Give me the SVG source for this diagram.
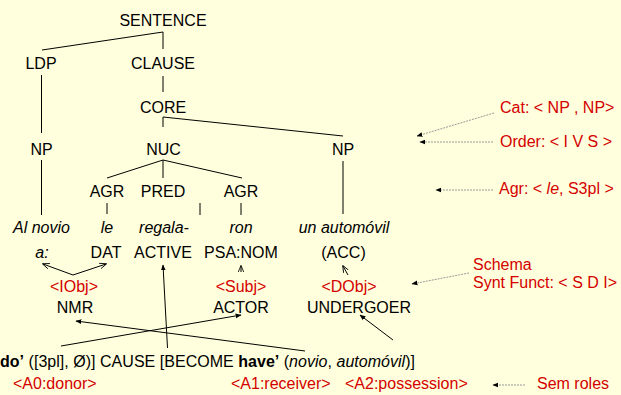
<svg xmlns="http://www.w3.org/2000/svg" width="621" height="395" viewBox="0 0 621 395">
<defs>
<style>
text{font-family:"Liberation Sans",Arial,sans-serif;font-size:16px;fill:#000;text-anchor:middle}
.r{fill:#D40000}
.s{text-anchor:start}
.i{font-style:italic}
.b{font-weight:bold}
.t{stroke:#000;stroke-width:1;fill:none}
.d{stroke:#999;stroke-width:1;stroke-dasharray:2,1;fill:none}
</style>
<marker id="fa" viewBox="0 0 10 10" refX="9" refY="5" markerWidth="6" markerHeight="6" orient="auto" markerUnits="userSpaceOnUse"><path d="M0,1 L10,5 L0,9 z" fill="#000"/></marker>
<marker id="oa" viewBox="0 0 10 10" refX="9" refY="5" markerWidth="7" markerHeight="7" orient="auto" markerUnits="userSpaceOnUse"><path d="M0,1 L10,5 L0,9" fill="none" stroke="#000" stroke-width="1.2"/></marker>
</defs>
<rect width="621" height="395" fill="#FFFFDD"/>
<g id="connectors">
<path class="t" d="M163,32 L42,50 M163,32 L163,49"/>
<path class="t" d="M41.5,75 L41.5,133 M163,76 L163,92"/>
<path class="t" d="M163,127 L163,117 L343,136"/>
<path class="t" d="M41.5,160 L41.5,215 M343,161 L343,214"/>
<path class="t" d="M107,178 L163,160 L242,178 M163,160 L163,178"/>
<path class="t" d="M107,203 L107,214 M200,203 L200,215 M241,203 L241,215"/>
<path class="t" d="M73,275 L106,264" marker-end="url(#oa)"/>
<path class="t" d="M73,275 L43,264" marker-end="url(#oa)"/>
<path class="t" d="M241,272 L241,266" marker-end="url(#oa)"/>
<path class="t" d="M348,275 L343,266" marker-end="url(#oa)"/>
<path class="t" d="M167.5,348 L163,265" marker-end="url(#fa)"/>
<path class="t" d="M61,346 L241,315" marker-end="url(#fa)"/>
<path class="t" d="M305,351 L76,321" marker-end="url(#fa)"/>
<path class="t" d="M393,340 L360,315" marker-end="url(#fa)"/>
<path class="d" d="M494,113 L417,136" marker-end="url(#fa)"/>
<path class="d" d="M493,142 L420,142" marker-end="url(#fa)"/>
<path class="d" d="M493,190 L436,190" marker-end="url(#fa)"/>
<path class="d" d="M469,273 L412,284" marker-end="url(#fa)"/>
<path class="d" d="M525,385 L493,385" marker-end="url(#fa)"/>
</g>
<g id="sentence"><text x="163" y="26">SENTENCE</text></g>
<g id="ldp"><text x="41" y="69">LDP</text></g>
<g id="clause"><text x="163" y="69">CLAUSE</text></g>
<g id="core"><text x="163" y="113">CORE</text></g>
<g id="np1"><text x="41.5" y="155">NP</text></g>
<g id="nuc"><text x="163.5" y="155">NUC</text></g>
<g id="np2"><text x="343" y="155">NP</text></g>
<g id="agr1"><text x="107" y="197">AGR</text></g>
<g id="pred"><text x="163" y="197">PRED</text></g>
<g id="agr2"><text x="241" y="197">AGR</text></g>
<g id="words">
<text class="i" x="41.5" y="233">Al novio</text>
<text class="i" x="107" y="233">le</text>
<text class="i" x="164" y="233">regala-</text>
<text class="i" x="241" y="233">ron</text>
<text class="i" x="344" y="233">un automóvil</text>
</g>
<g id="cases">
<text class="i" x="42" y="258">a:</text>
<text x="106" y="258">DAT</text>
<text x="163" y="258">ACTIVE</text>
<text x="241" y="258">PSA:NOM</text>
<text x="343.5" y="258">(ACC)</text>
</g>
<g id="functions">
<text class="r" x="74" y="292">&lt;IObj&gt;</text>
<text class="r" x="241" y="292">&lt;Subj&gt;</text>
<text class="r" x="349" y="292">&lt;DObj&gt;</text>
</g>
<g id="macroroles">
<text x="75" y="313">NMR</text>
<text x="241" y="313">ACTOR</text>
<text x="359" y="313">UNDERGOER</text>
</g>
<g id="logical-structure"><text class="s" x="0" y="367" textLength="415" lengthAdjust="spacing"><tspan class="b">do’</tspan> ([3pl], Ø)] CAUSE [BECOME <tspan class="b">have’</tspan> (<tspan class="i">novio</tspan>, <tspan class="i">automóvil</tspan>)]</text></g>
<g id="sem-roles">
<text class="r s" x="13" y="389">&lt;A0:donor&gt;</text>
<text class="r s" x="231" y="389">&lt;A1:receiver&gt;</text>
<text class="r s" x="345" y="389">&lt;A2:possession&gt;</text>
<text class="r s" x="537" y="389">Sem roles</text>
</g>
<g id="annotations">
<text class="r s" x="500" y="113">Cat: &lt; NP , NP&gt;</text>
<text class="r s" x="500" y="147">Order: &lt; I V S &gt;</text>
<text class="r s" x="499" y="194">Agr: &lt; <tspan class="i">le</tspan>, S3pl &gt;</text>
<text class="r s" x="473" y="270">Schema</text>
<text class="r s" x="473" y="288">Synt Funct: &lt; S D I&gt;</text>
</g>
</svg>
